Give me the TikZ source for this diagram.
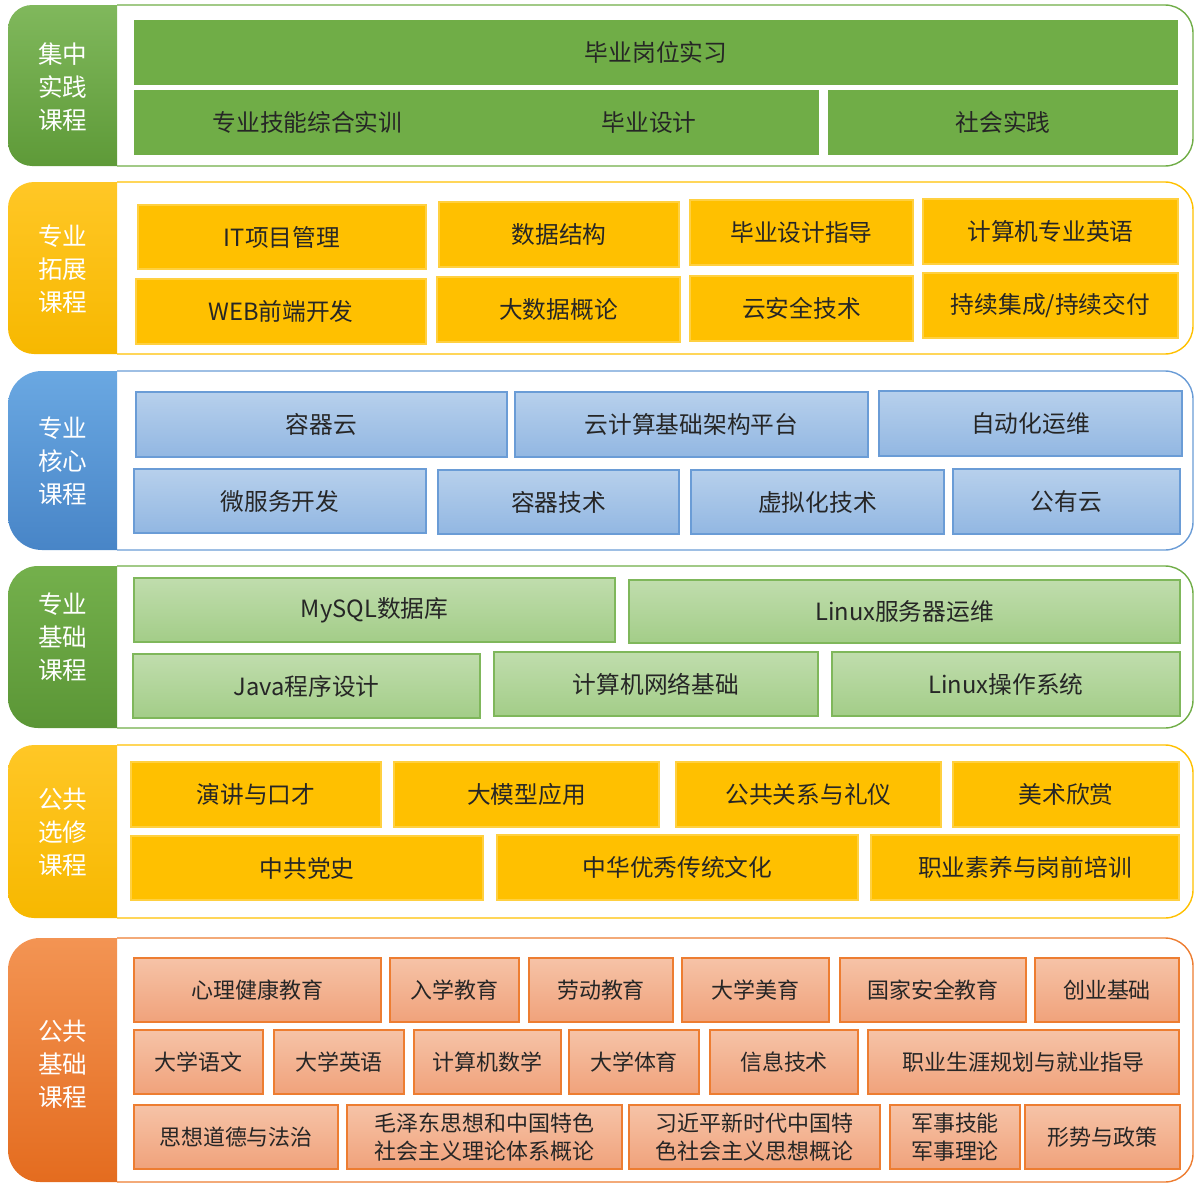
\documentclass[tikz,border=0pt]{standalone}
\usepackage{fontspec}
\setmainfont{Noto Sans CJK SC}

\definecolor{prgreen}{HTML}{70AD47}
\definecolor{prtop}{HTML}{80B85C}
\definecolor{prbot}{HTML}{5E9A38}
\definecolor{exyellow}{HTML}{FFC000}
\definecolor{extop}{HTML}{FFC726}
\definecolor{exbot}{HTML}{F7B800}
\definecolor{coreline}{HTML}{6A9CD6}
\definecolor{coretop}{HTML}{B7D0EC}
\definecolor{corebot}{HTML}{92B7E2}
\definecolor{coretabtop}{HTML}{6AA8E2}
\definecolor{coretabbot}{HTML}{4885C7}
\definecolor{baseline}{HTML}{7FB75B}
\definecolor{basetop}{HTML}{C0DDAD}
\definecolor{basebot}{HTML}{A3CD88}
\definecolor{basetabtop}{HTML}{74B04C}
\definecolor{basetabbot}{HTML}{5B9636}
\definecolor{publine}{HTML}{ED7D31}
\definecolor{pubtop}{HTML}{F6C3A7}
\definecolor{pubbot}{HTML}{F0A27B}
\definecolor{pubtabtop}{HTML}{F39453}
\definecolor{pubtabbot}{HTML}{E46C1F}

\tikzset{
  course/.style={draw, inner sep=0pt, outer sep=0pt, line width=0.6pt, text=black!85,
    align=center, font=\fontsize{13.5pt}{16pt}\selectfont},
  practice/.style={course, fill=prgreen, draw=prgreen},
  expand/.style={course, fill=exyellow, draw=exyellow!75!white},
  core/.style={course, top color=coretop, bottom color=corebot, draw=coreline},
  basic/.style={course, top color=basetop, bottom color=basebot, draw=baseline},
  elective/.style={course, fill=exyellow, draw=exyellow!75!white},
  public/.style={course, top color=pubtop, bottom color=pubbot, draw=publine,
    font=\fontsize{12.5pt}{16pt}\selectfont},
  tablabel/.style={text=white, align=center, font=\fontsize{14pt}{18.8pt}\selectfont},
}

% name, top, bottom, corner, tab style, line colour, label y, label
\newcommand{\band}[8]{%
  \draw[draw=#6, line width=0.8pt] (117,#2) -- (1165,#2)
    arc[start angle=270, end angle=360, radius=28] -- (1193,#3-28)
    arc[start angle=0, end angle=90, radius=28] -- (117,#3);
  \path[#5] (117,#2) -- (8+#4,#2)
    arc[start angle=270, end angle=180, radius=#4] -- (8,#3-#4)
    arc[start angle=180, end angle=90, radius=#4] -- (117,#3) -- cycle;
  \node[tablabel] (#1) at (63,#7) {#8};}

% name, style, x1, y1, x2, y2, text
\newcommand{\course}[7]{%
  \node[#2, minimum width={(#5-#3)*0.02cm}, minimum height={(#6-#4)*0.02cm}]
    (#1) at ({(#3+#5)/2},{(#4+#6)/2}) {#7};}

\begin{document}
\begin{tikzpicture}[x=0.02cm, y=-0.02cm]
\useasboundingbox (0,0) rectangle (1194,1183);

\band{practicetab}{5}{166}{24}{top color=prtop, bottom color=prbot}{prgreen}{87}{集中\\实践\\课程}
\course{intern}{practice}{135}{21}{1177}{84}{毕业岗位实习}
\course{skill}{practice}{135}{91}{480}{154}{专业技能综合实训}
\course{design}{practice}{480}{91}{818}{154}{毕业设计}
\course{social}{practice}{829}{91}{1177}{154}{社会实践}

\band{expandtab}{182}{354}{26}{top color=extop, bottom color=exbot}{exyellow}{269}{专业\\拓展\\课程}
\course{itpm}{expand}{138}{205}{426}{269}{IT项目管理}
\course{datastr}{expand}{439}{202}{679}{267}{数据结构}
\course{guide}{expand}{690}{200}{913}{265}{毕业设计指导}
\course{english}{expand}{923}{199}{1178}{264}{计算机专业英语}
\course{web}{expand}{136}{279}{426}{344}{WEB前端开发}
\course{bigdata}{expand}{437}{277}{680}{342}{大数据概论}
\course{cloudsec}{expand}{690}{276}{913}{341}{云安全技术}
\course{cicd}{expand}{923}{273}{1178}{338}{持续集成/持续交付}

\band{coretab}{371}{550}{34}{top color=coretabtop, bottom color=coretabbot}{coreline}{461}{专业\\核心\\课程}
\course{ccloud}{core}{136}{392}{507}{457}{容器云}
\course{iaas}{core}{515}{392}{868}{457}{云计算基础架构平台}
\course{autoops}{core}{879}{391}{1182}{456}{自动化运维}
\course{micro}{core}{134}{469}{426}{533}{微服务开发}
\course{container}{core}{438}{470}{679}{534}{容器技术}
\course{virtual}{core}{691}{470}{944}{534}{虚拟化技术}
\course{pubcloud}{core}{953}{469}{1180}{534}{公有云}

\band{basictab}{566}{728}{30}{top color=basetabtop, bottom color=basetabbot}{prgreen}{637}{专业\\基础\\课程}
\course{mysql}{basic}{134}{578}{615}{642}{MySQL数据库}
\course{linuxops}{basic}{629}{580}{1180}{643}{Linux服务器运维}
\course{java}{basic}{133}{654}{480}{718}{Java程序设计}
\course{network}{basic}{494}{652}{818}{716}{计算机网络基础}
\course{linuxos}{basic}{832}{652}{1180}{716}{Linux操作系统}

\band{electivetab}{745}{918}{26}{top color=extop, bottom color=exbot}{exyellow}{832}{公共\\选修\\课程}
\course{speech}{elective}{131}{762}{381}{827}{演讲与口才}
\course{llm}{elective}{394}{762}{659}{827}{大模型应用}
\course{pr}{elective}{676}{762}{941}{827}{公共关系与礼仪}
\course{art}{elective}{953}{762}{1179}{827}{美术欣赏}
\course{party}{elective}{131}{836}{483}{900}{中共党史}
\course{culture}{elective}{497}{835}{858}{900}{中华优秀传统文化}
\course{career}{elective}{871}{835}{1179}{900}{职业素养与岗前培训}

\band{publictab}{938}{1182}{32}{top color=pubtabtop, bottom color=pubtabbot}{publine}{1064}{公共\\基础\\课程}
\course{mental}{public}{134}{958}{381}{1022}{心理健康教育}
\course{entry}{public}{390}{958}{519}{1022}{入学教育}
\course{labour}{public}{529}{958}{673}{1022}{劳动教育}
\course{aesth}{public}{682}{958}{829}{1022}{大学美育}
\course{security}{public}{840}{958}{1026}{1022}{国家安全教育}
\course{startup}{public}{1035}{958}{1179}{1022}{创业基础}
\course{chinese}{public}{134}{1030}{263}{1094}{大学语文}
\course{colleng}{public}{274}{1030}{404}{1094}{大学英语}
\course{math}{public}{414}{1030}{561}{1094}{计算机数学}
\course{pe}{public}{569}{1030}{699}{1094}{大学体育}
\course{infotech}{public}{710}{1030}{858}{1094}{信息技术}
\course{plan}{public}{868}{1030}{1179}{1094}{职业生涯规划与就业指导}
\course{morals}{public}{134}{1105}{338}{1169}{思想道德与法治}
\course{maoism}{public}{347}{1105}{622}{1169}{毛泽东思想和中国特色\\社会主义理论体系概论}
\course{xithought}{public}{629}{1105}{880}{1169}{习近平新时代中国特\\色社会主义思想概论}
\course{military}{public}{890}{1105}{1020}{1169}{军事技能\\军事理论}
\course{policy}{public}{1025}{1105}{1180}{1169}{形势与政策}
\end{tikzpicture}
\end{document}
